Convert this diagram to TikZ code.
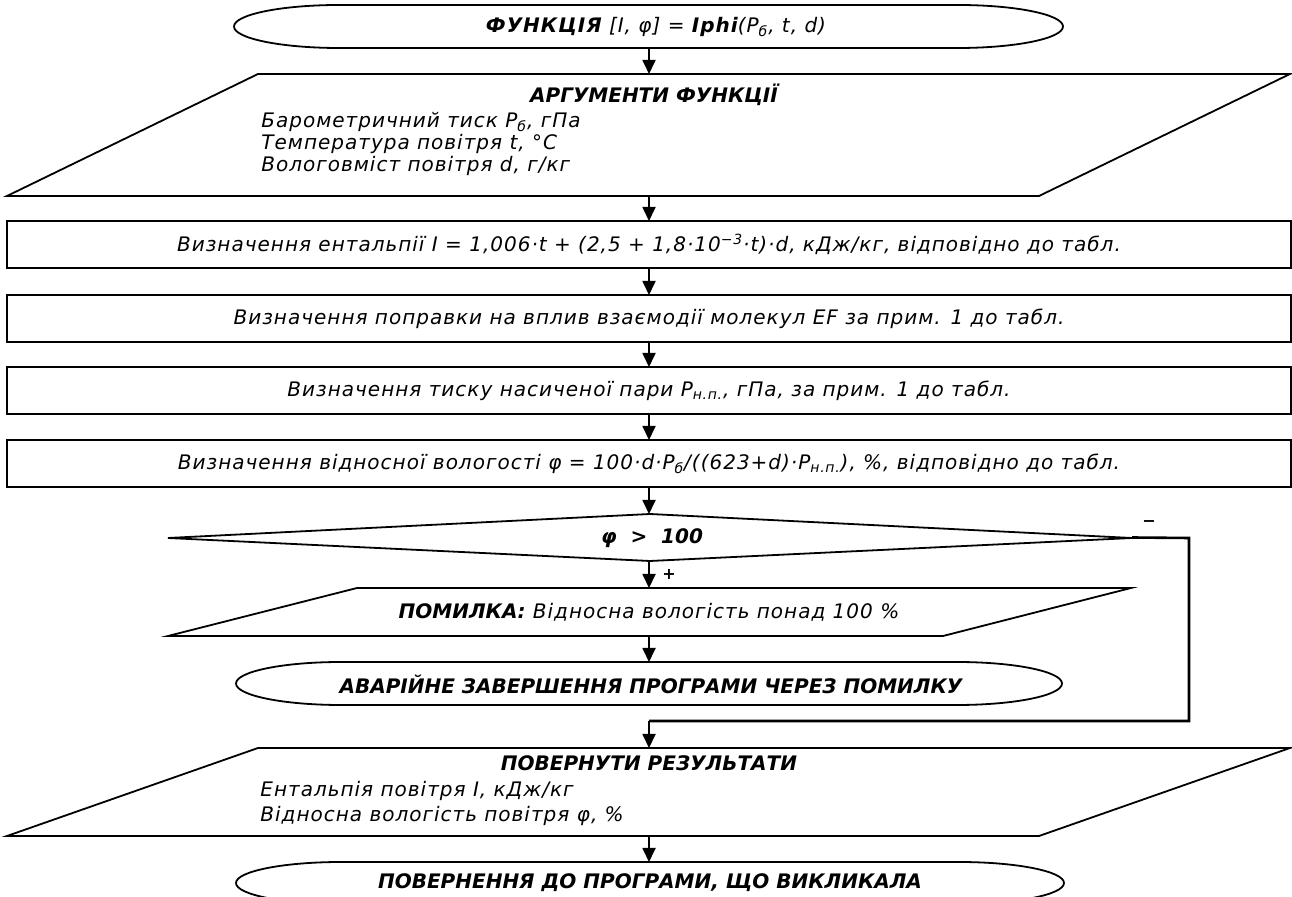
\documentclass[tikz,border=0pt]{standalone}
\usepackage{fontspec}
\setmainfont{DejaVu Sans}[LetterSpace=5]
\newfontfamily\ttlfont{DejaVu Sans}[LetterSpace=0]
\usetikzlibrary{arrows.meta,fit}
\begin{document}
\begin{tikzpicture}[x=0.5pt,y=-0.5pt,
  shp/.style={draw, line width=0.9pt},
  hold/.style={inner sep=0pt, outer sep=0pt},
  arr/.style={line width=0.9pt, -{Triangle[length=7pt,width=6.5pt]}},
  loopline/.style={line width=1.3pt},
  txt/.style={font=\fontsize{10}{12}\selectfont\itshape, inner sep=0pt},
  ttl/.style={font=\fontsize{10}{12}\selectfont\ttlfont\bfseries\itshape, inner sep=0pt},
  sgn/.style={font=\fontsize{8}{10}\selectfont\bfseries, inner sep=0pt},
]
\useasboundingbox (0,0) rectangle (1292,897);

% ---- start terminator
\draw[shp] (339,5) -- (958,5) arc[start angle=90,end angle=-90,x radius=52.5pt,y radius=10.75pt]
  -- (339,48) arc[start angle=270,end angle=90,x radius=52.5pt,y radius=10.75pt] -- cycle;
\node[hold, fit={(234,5) (1063,48)}] (t1) {};
\node[txt] (t1txt) at (656,27) {\bfseries ФУНКЦІЯ\mdseries{} [I, φ] = \bfseries Iphi\mdseries(P\textsubscript{б}, t, d)};

% ---- arguments
\draw[shp] (258,74) -- (1290,74) -- (1039,196) -- (7,196) -- cycle;
\node[hold, fit={(7,74) (1290,196)}] (a1) {};
\node[ttl, anchor=base] (a1t) at (654,103) {АРГУМЕНТИ ФУНКЦІЇ};
\node[txt, anchor=base west] (a1l1) at (261,128) {Барометричний тиск P\textsubscript{б}, гПа};
\node[txt, anchor=base west] (a1l2) at (261,150) {Температура повітря t, °C};
\node[txt, anchor=base west] (a1l3) at (261,172) {Вологовміст повітря d, г/кг};

% ---- process boxes
\node[shp, hold, fit={(7,221) (1291,268)}] (b1) {};
\node[txt] (b1t) at (b1) {Визначення ентальпії I = 1,006·t + (2,5 + 1,8·10\textsuperscript{−3}·t)·d, кДж/кг, відповідно до табл.};
\node[shp, hold, fit={(7,295) (1291,342)}] (b2) {};
\node[txt] (b2t) at (b2) {Визначення поправки на вплив взаємодії молекул EF за прим. 1 до табл.};
\node[shp, hold, fit={(7,367) (1291,414)}] (b3) {};
\node[txt] (b3t) at (b3) {Визначення тиску насиченої пари P\textsubscript{н.п.}, гПа, за прим. 1 до табл.};
\node[shp, hold, fit={(7,440) (1291,487)}] (b4) {};
\node[txt] (b4t) at (b4) {Визначення відносної вологості φ = 100·d·P\textsubscript{б}/((623+d)·P\textsubscript{н.п.}), \%, відповідно до табл.};

% ---- decision
\draw[shp] (650,514) -- (1132,538) -- (650,561) -- (168,538) -- cycle;
\node[hold, fit={(168,514) (1132,561)}] (d) {};
\node[ttl] (dt) at (652,538) {φ \ > \ 100};

% ---- error output
\draw[shp] (357,588) -- (1131,588) -- (943,636) -- (168,636) -- cycle;
\node[hold, fit={(168,588) (1131,636)}] (e) {};
\node[txt] (et) at (649,612) {{\ttlfont\bfseries ПОМИЛКА:}\mdseries{} Відносна вологість понад 100 \%};

% ---- abort terminator
\draw[shp] (341,662) -- (957,662) arc[start angle=90,end angle=-90,x radius=52.5pt,y radius=10.75pt]
  -- (341,705) arc[start angle=270,end angle=90,x radius=52.5pt,y radius=10.75pt] -- cycle;
\node[hold, fit={(236,662) (1062,705)}] (ab) {};
\node[ttl] (abt) at (651,684) {АВАРІЙНЕ ЗАВЕРШЕННЯ ПРОГРАМИ ЧЕРЕЗ ПОМИЛКУ};

% ---- return results
\draw[shp] (258,748) -- (1290,748) -- (1039,836) -- (7,836) -- cycle;
\node[hold, fit={(7,748) (1290,836)}] (r) {};
\node[ttl, anchor=base] (rt) at (649,771) {ПОВЕРНУТИ РЕЗУЛЬТАТИ};
\node[txt, anchor=base west] (rl1) at (260,797) {Ентальпія повітря I, кДж/кг};
\node[txt, anchor=base west] (rl2) at (260,822) {Відносна вологість повітря φ, \%};

% ---- final terminator
\draw[shp] (341,862) -- (959,862) arc[start angle=90,end angle=-90,x radius=52.5pt,y radius=10.5pt]
  -- (341,904) arc[start angle=270,end angle=90,x radius=52.5pt,y radius=10.5pt] -- cycle;
\node[hold, fit={(236,862) (1064,904)}] (f) {};
\node[ttl] (ft) at (650,883) {ПОВЕРНЕННЯ ДО ПРОГРАМИ, ЩО ВИКЛИКАЛА};

% ---- connectors
\coordinate (ax) at (649,0);
\draw[arr] (t1.south -| ax) -- (a1.north -| ax);
\draw[arr] (a1.south -| ax) -- (b1.north -| ax);
\draw[arr] (b1.south -| ax) -- (b2.north -| ax);
\draw[arr] (b2.south -| ax) -- (b3.north -| ax);
\draw[arr] (b3.south -| ax) -- (b4.north -| ax);
\draw[arr] (b4.south -| ax) -- (d.north -| ax);
\draw[arr] (d.south -| ax) -- (e.north -| ax);
\draw[arr] (e.south -| ax) -- (ab.north -| ax);
\coordinate (lpa) at (1189,538);
\coordinate (lpb) at (1189,721);
\draw[loopline] (d.east) -- (lpa) -- (lpb) -- (lpb -| ax);
\draw[arr] (lpb -| ax) -- (r.north -| ax);
\draw[arr] (r.south -| ax) -- (f.north -| ax);
\node[sgn] (plus) at (669,574) {+};
\node[sgn] (minus) at (1149,524) {−};
\end{tikzpicture}
\end{document}
